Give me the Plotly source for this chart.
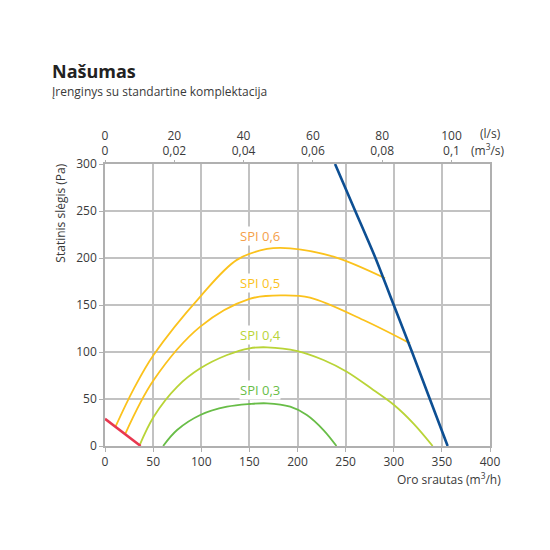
import plotly.graph_objects as go

# ---- data (m3/h, Pa) ----
spi06_q = [10.9, 30, 50.6, 99, 137, 168.3, 192.4, 237.4, 291]
spi06_p = [20.5, 61, 97, 159, 198, 209.6, 210.3, 201.4, 178.4]

spi05_q = [21.3, 50.6, 99, 150.2, 185.5, 213, 268.5, 316.9]
spi05_p = [13.5, 70.2, 127, 156.5, 160.3, 157.8, 134, 109.2]

spi04_q = [36, 50.6, 74.9, 99, 126.8, 150.2, 168.3, 200, 227, 251.2, 278.8, 300.3, 320.3, 340.4]
spi04_p = [1, 31.2, 63, 82.6, 96.8, 103.9, 105, 101, 91.5, 79, 59.6, 43.6, 24.1, 0]

spi03_q = [60.4, 74.9, 99, 126.8, 150.2, 168.3, 192.4, 209.7, 227, 240.5]
spi03_p = [0, 17, 33, 41.8, 44.7, 45.4, 41.8, 33, 17, 0]

system_q = [239, 260, 281, 300, 319, 337.5, 356]
system_p = [300, 250, 200, 150, 100, 50, 0]

limit_q = [0, 37]
limit_p = [29, 0]

x_ticks = [0, 50, 100, 150, 200, 250, 300, 350, 400]
y_ticks = [0, 50, 100, 150, 200, 250, 300]
top_ls = [0, 20, 40, 60, 80, 100]
top_m3s = ["0", "0,02", "0,04", "0,06", "0,08", "0,1"]

labels = ["SPI 0,6", "SPI 0,5", "SPI 0,4", "SPI 0,3"]
label_q = [161.3, 161.3, 161.3, 161.3]
label_p = [223.4, 173, 118, 59.6]

FONT = "Open Sans"
TXT = "#3a3a3a"
GRID = "#c2c2c2"

fig = go.Figure()

curves = [
    (spi06_q, spi06_p, "#fbc21c"),
    (spi05_q, spi05_p, "#fbc21c"),
    (spi04_q, spi04_p, "#b9d437"),
    (spi03_q, spi03_p, "#68bd47"),
]
for q, p, c in curves:
    fig.add_trace(go.Scatter(x=q, y=p, mode="lines", line=dict(color=c, width=1.8, shape="spline", smoothing=1.0),
                             showlegend=False, hoverinfo="skip"))

fig.add_trace(go.Scatter(x=system_q, y=system_p, mode="lines",
                         line=dict(color="#0d4f93", width=2.6, shape="spline", smoothing=0.6),
                         showlegend=False, hoverinfo="skip"))
fig.add_trace(go.Scatter(x=limit_q, y=limit_p, mode="lines",
                         line=dict(color="#e8374f", width=2.6),
                         showlegend=False, hoverinfo="skip"))

# invisible trace for top axis (l/s)
fig.add_trace(go.Scatter(x=[0, 100], y=[None, None], xaxis="x2", mode="lines",
                         showlegend=False, hoverinfo="skip"))

label_colors = ["#f4a04a", "#fbc21c", "#b9d437", "#68bd47"]
for t, q, p, c in zip(labels, label_q, label_p, label_colors):
    fig.add_annotation(x=q, y=p, xref="x", yref="y", text=t, showarrow=False,
                       font=dict(family=FONT, size=13, color=c), bgcolor="white", borderpad=0)

fig.update_layout(
    width=550, height=550,
    margin=dict(l=96.5, r=68, t=156, b=112),
    paper_bgcolor="white", plot_bgcolor="white",
    font=dict(family=FONT, size=12, color=TXT),
    xaxis=dict(range=[0, 400], tickvals=x_ticks, ticktext=[str(v) for v in x_ticks],
               showgrid=True, gridcolor=GRID, gridwidth=1.5,
               showline=True, linecolor="#b0b0b0", linewidth=1.5, mirror=True,
               ticks="outside", ticklen=4, tickcolor="#b0b0b0", zeroline=False,
               tickfont=dict(family=FONT, size=12, color=TXT)),
    yaxis=dict(range=[0, 300], tickvals=y_ticks, ticktext=[str(v) for v in y_ticks],
               showgrid=True, gridcolor=GRID, gridwidth=1.5,
               showline=True, linecolor="#b0b0b0", linewidth=1.5, mirror=True,
               ticks="outside", ticklen=4, tickcolor="#b0b0b0", zeroline=False,
               tickfont=dict(family=FONT, size=12, color=TXT)),
    xaxis2=dict(overlaying="x", side="top", anchor="y", range=[0, 400 / 3.6],
                tickvals=top_ls, ticktext=[f"{a}<br>{b}" for a, b in zip(top_ls, top_m3s)],
                showgrid=False, showline=False, zeroline=False,
                ticks="outside", ticklen=3, tickcolor="#b0b0b0",
                tickfont=dict(family=FONT, size=12, color=TXT)),
)

# titles
fig.add_annotation(xref="paper", yref="paper", x=-0.144, y=1.33, xanchor="left", yanchor="middle",
                   text="<b>Našumas</b>", showarrow=False, font=dict(family=FONT, size=18, color="#222"))
fig.add_annotation(xref="paper", yref="paper", x=-0.144, y=1.256, xanchor="left", yanchor="middle",
                   text="Įrenginys su standartine komplektacija", showarrow=False,
                   font=dict(family=FONT, size=12, color=TXT))
# axis titles
fig.add_annotation(xref="paper", yref="paper", x=1.034, y=-0.117, xanchor="right", yanchor="middle",
                   text="Oro srautas (m<sup>3</sup>/h)", showarrow=False, font=dict(family=FONT, size=12, color=TXT))
fig.add_annotation(xref="paper", yref="paper", x=-0.118, y=0.826, xanchor="center", yanchor="middle",
                   text="Statinis slėgis (Pa)", textangle=-90, showarrow=False,
                   font=dict(family=FONT, size=12, color=TXT))
# top units
fig.add_annotation(xref="paper", yref="paper", x=1.034, y=1.108, xanchor="right", yanchor="middle",
                   text="(l/s)", showarrow=False, font=dict(family=FONT, size=12, color=TXT))
fig.add_annotation(xref="paper", yref="paper", x=1.045, y=1.051, xanchor="right", yanchor="middle",
                   text="(m<sup>3</sup>/s)", showarrow=False, font=dict(family=FONT, size=12, color=TXT))

fig.write_html("out.html")
